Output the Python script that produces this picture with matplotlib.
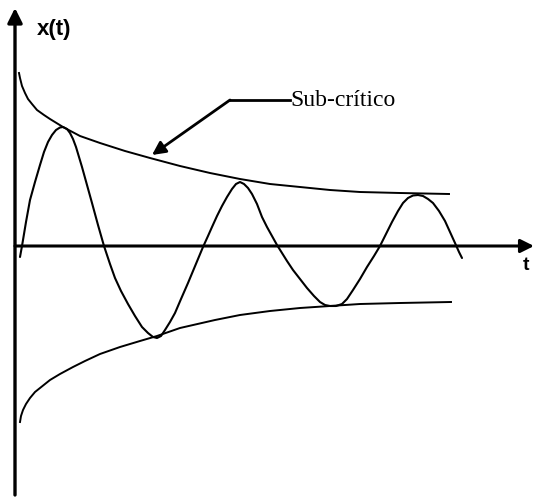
import numpy as np
import matplotlib
matplotlib.use('Agg')
import matplotlib.pyplot as plt

# origen del diagrama (en pixeles de la figura)
T0, X0 = 15, 246

# oscilacion sub-critica (pixeles)
osc_px = [20, 22, 26, 30, 35, 40, 44, 48, 52, 56, 60, 63, 67, 70, 73, 76, 79, 82, 87, 92,
          98, 104, 110, 115, 121, 128, 135, 142, 148, 153, 157, 161, 165, 170, 175, 181,
          188, 193, 198, 203, 208, 212, 217, 222, 227, 232, 236, 240, 244, 248, 252, 257,
          262, 267, 272, 277, 282, 287, 293, 300, 307, 314, 320, 325, 330, 336, 342, 347,
          353, 360, 367, 374, 380, 386, 392, 398, 403, 408, 413, 418, 423, 428, 433, 439,
          445, 450, 455, 459, 462]
osc_py = [257, 246, 222, 200, 182, 165, 152, 142, 135, 130, 127.5, 127, 129, 133, 139,
          147, 157, 167, 185, 203, 225, 246, 264, 278, 291, 304, 316, 327, 333, 337, 338,
          336, 330, 322, 313, 299, 283, 271, 259, 247, 236, 227, 216, 206, 197, 189, 184,
          182, 184, 188, 194, 204, 217, 227, 236, 245, 253, 261, 270, 279, 288, 296, 302,
          305, 306, 306, 304, 299, 290, 279, 267, 256, 246, 234, 222, 211, 203, 198, 195.5,
          195, 196, 199, 203, 211, 221, 232, 243, 252, 258]

# envolvente superior
sup_px = [19, 20, 22, 25, 28, 32, 37, 44, 50, 63, 80, 100, 125, 150, 180, 210, 240, 270,
          300, 330, 360, 400, 449]
sup_py = [73, 78, 86, 93, 99, 104, 110, 115, 119, 127, 136, 143, 151, 158, 166, 173, 179,
          184, 187, 190, 192, 193, 194]

# envolvente inferior
inf_px = [20, 21, 23, 26, 30, 35, 40, 50, 60, 73, 85, 100, 120, 140, 157, 180, 215, 240,
          270, 300, 330, 360, 400, 451]
inf_py = [422, 416, 410, 404, 398, 392, 388, 380, 374, 367, 361, 354, 347, 341, 336, 328,
          320, 315, 311, 308, 306, 304, 303, 302]

def tx(px, py):
    return np.array(px) - T0, X0 - np.array(py)

fig = plt.figure(figsize=(5.34, 5.03), dpi=100)
ax = fig.add_axes([0, 0, 1, 1])
ax.set_xlim(-T0, 534 - T0)
ax.set_ylim(X0 - 503, X0)
ax.axis('off')

# ejes con flechas
ax.annotate('', xy=(0, X0 - 8), xytext=(0, X0 - 495),
            arrowprops=dict(arrowstyle='-|>', lw=2.4, color='black',
                            mutation_scale=22, shrinkA=0, shrinkB=0))
ax.annotate('', xy=(534 - T0, 0), xytext=(0, 0),
            arrowprops=dict(arrowstyle='-|>', lw=2.2, color='black',
                            mutation_scale=20, shrinkA=0, shrinkB=0))

t, x = tx(osc_px, osc_py)
ax.plot(t, x, color='black', lw=1.5, solid_capstyle='round', solid_joinstyle='round')
t, x = tx(sup_px, sup_py)
ax.plot(t, x, color='black', lw=1.4)
t, x = tx(inf_px, inf_py)
ax.plot(t, x, color='black', lw=1.4)

# etiqueta con flecha
ax.plot([290 - T0, 230 - T0], [X0 - 100, X0 - 100], color='black', lw=2)
ax.annotate('', xy=(152 - T0, X0 - 155), xytext=(230 - T0, X0 - 100),
            arrowprops=dict(arrowstyle='-|>', lw=2, color='black',
                            mutation_scale=20, shrinkA=0, shrinkB=0))
ax.text(290 - T0, X0 - 101, 'Sub-crítico', fontsize=17, family='Liberation Serif',
        ha='left', va='center')

ax.text(37 - T0, X0 - 30, 'x(t)', fontsize=16, fontweight='bold',
        family='Liberation Sans', ha='left', va='center')
ax.text(526 - T0, X0 - 266, 't', fontsize=14, fontweight='bold',
        family='Liberation Sans', ha='center', va='center')

plt.savefig('out.png', dpi=100)
